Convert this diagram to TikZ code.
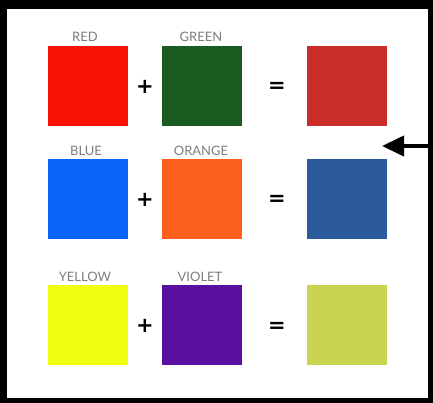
\documentclass[tikz,border=0pt]{standalone}
\usepackage{fontspec}
\setmainfont{Lato}
\newfontfamily\symfont{DejaVu Sans}
\usetikzlibrary{arrows.meta}
\definecolor{cRed}{HTML}{F81206}
\definecolor{cGreen}{HTML}{1A5C20}
\definecolor{cRes1}{HTML}{C92D27}
\definecolor{cBlue}{HTML}{0A64FA}
\definecolor{cOrange}{HTML}{FC5F1E}
\definecolor{cRes2}{HTML}{2C5B9D}
\definecolor{cYellow}{HTML}{EEFF12}
\definecolor{cViolet}{HTML}{590FA0}
\definecolor{cRes3}{HTML}{C9D450}
\definecolor{lblgray}{HTML}{7E7E7E}
\tikzset{
  sq/.style={minimum width=80pt, minimum height=80pt, inner sep=0pt, draw=none},
  lbl/.style={text=lblgray, font=\fontsize{13}{13}\selectfont, inner sep=0pt, anchor=base},
  op/.style={font=\symfont\bfseries\fontsize{21}{21}\selectfont, inner sep=0pt},
}
\begin{document}
\begin{tikzpicture}[x=1pt,y=-1pt]
\useasboundingbox (0,0) rectangle (433,403);
\fill[black] (0,0) rectangle (433,403);
\fill[white] (7,9) rectangle (428,398);
% row 1
\node[sq, fill=cRed] (a1) at (88,86.5) {};
\node[sq, fill=cGreen] (b1) at (201.5,86.5) {};
\node[sq, fill=cRes1] (c1) at (347,86.5) {};
\node[lbl] (la1) at (85,42) {RED};
\node[lbl] (lb1) at (201,42) {GREEN};
\node[op] (p1) at (145,87) {+};
\node[op] (e1) at (277,87) {=};
% row 2
\node[sq, fill=cBlue] (a2) at (88,199) {};
\node[sq, fill=cOrange] (b2) at (201.5,199) {};
\node[sq, fill=cRes2] (c2) at (347,199) {};
\node[lbl] (la2) at (86,156) {BLUE};
\node[lbl] (lb2) at (201,156) {ORANGE};
\node[op] (p2) at (145,200) {+};
\node[op] (e2) at (277,200) {=};
% row 3
\node[sq, fill=cYellow] (a3) at (88,324.5) {};
\node[sq, fill=cViolet] (b3) at (201.5,324.5) {};
\node[sq, fill=cRes3] (c3) at (347,324.5) {};
\node[lbl] (la3) at (85,281) {YELLOW};
\node[lbl] (lb3) at (200,281) {VIOLET};
\node[op] (p3) at (145,326) {+};
\node[op] (e3) at (277,327) {=};
% arrow
\coordinate (aend) at (429,146);
\coordinate (atip) at (382,146);
\draw[line width=4pt, -{Triangle[length=22pt,width=20pt]}] (aend) -- (atip);
\end{tikzpicture}
\end{document}
